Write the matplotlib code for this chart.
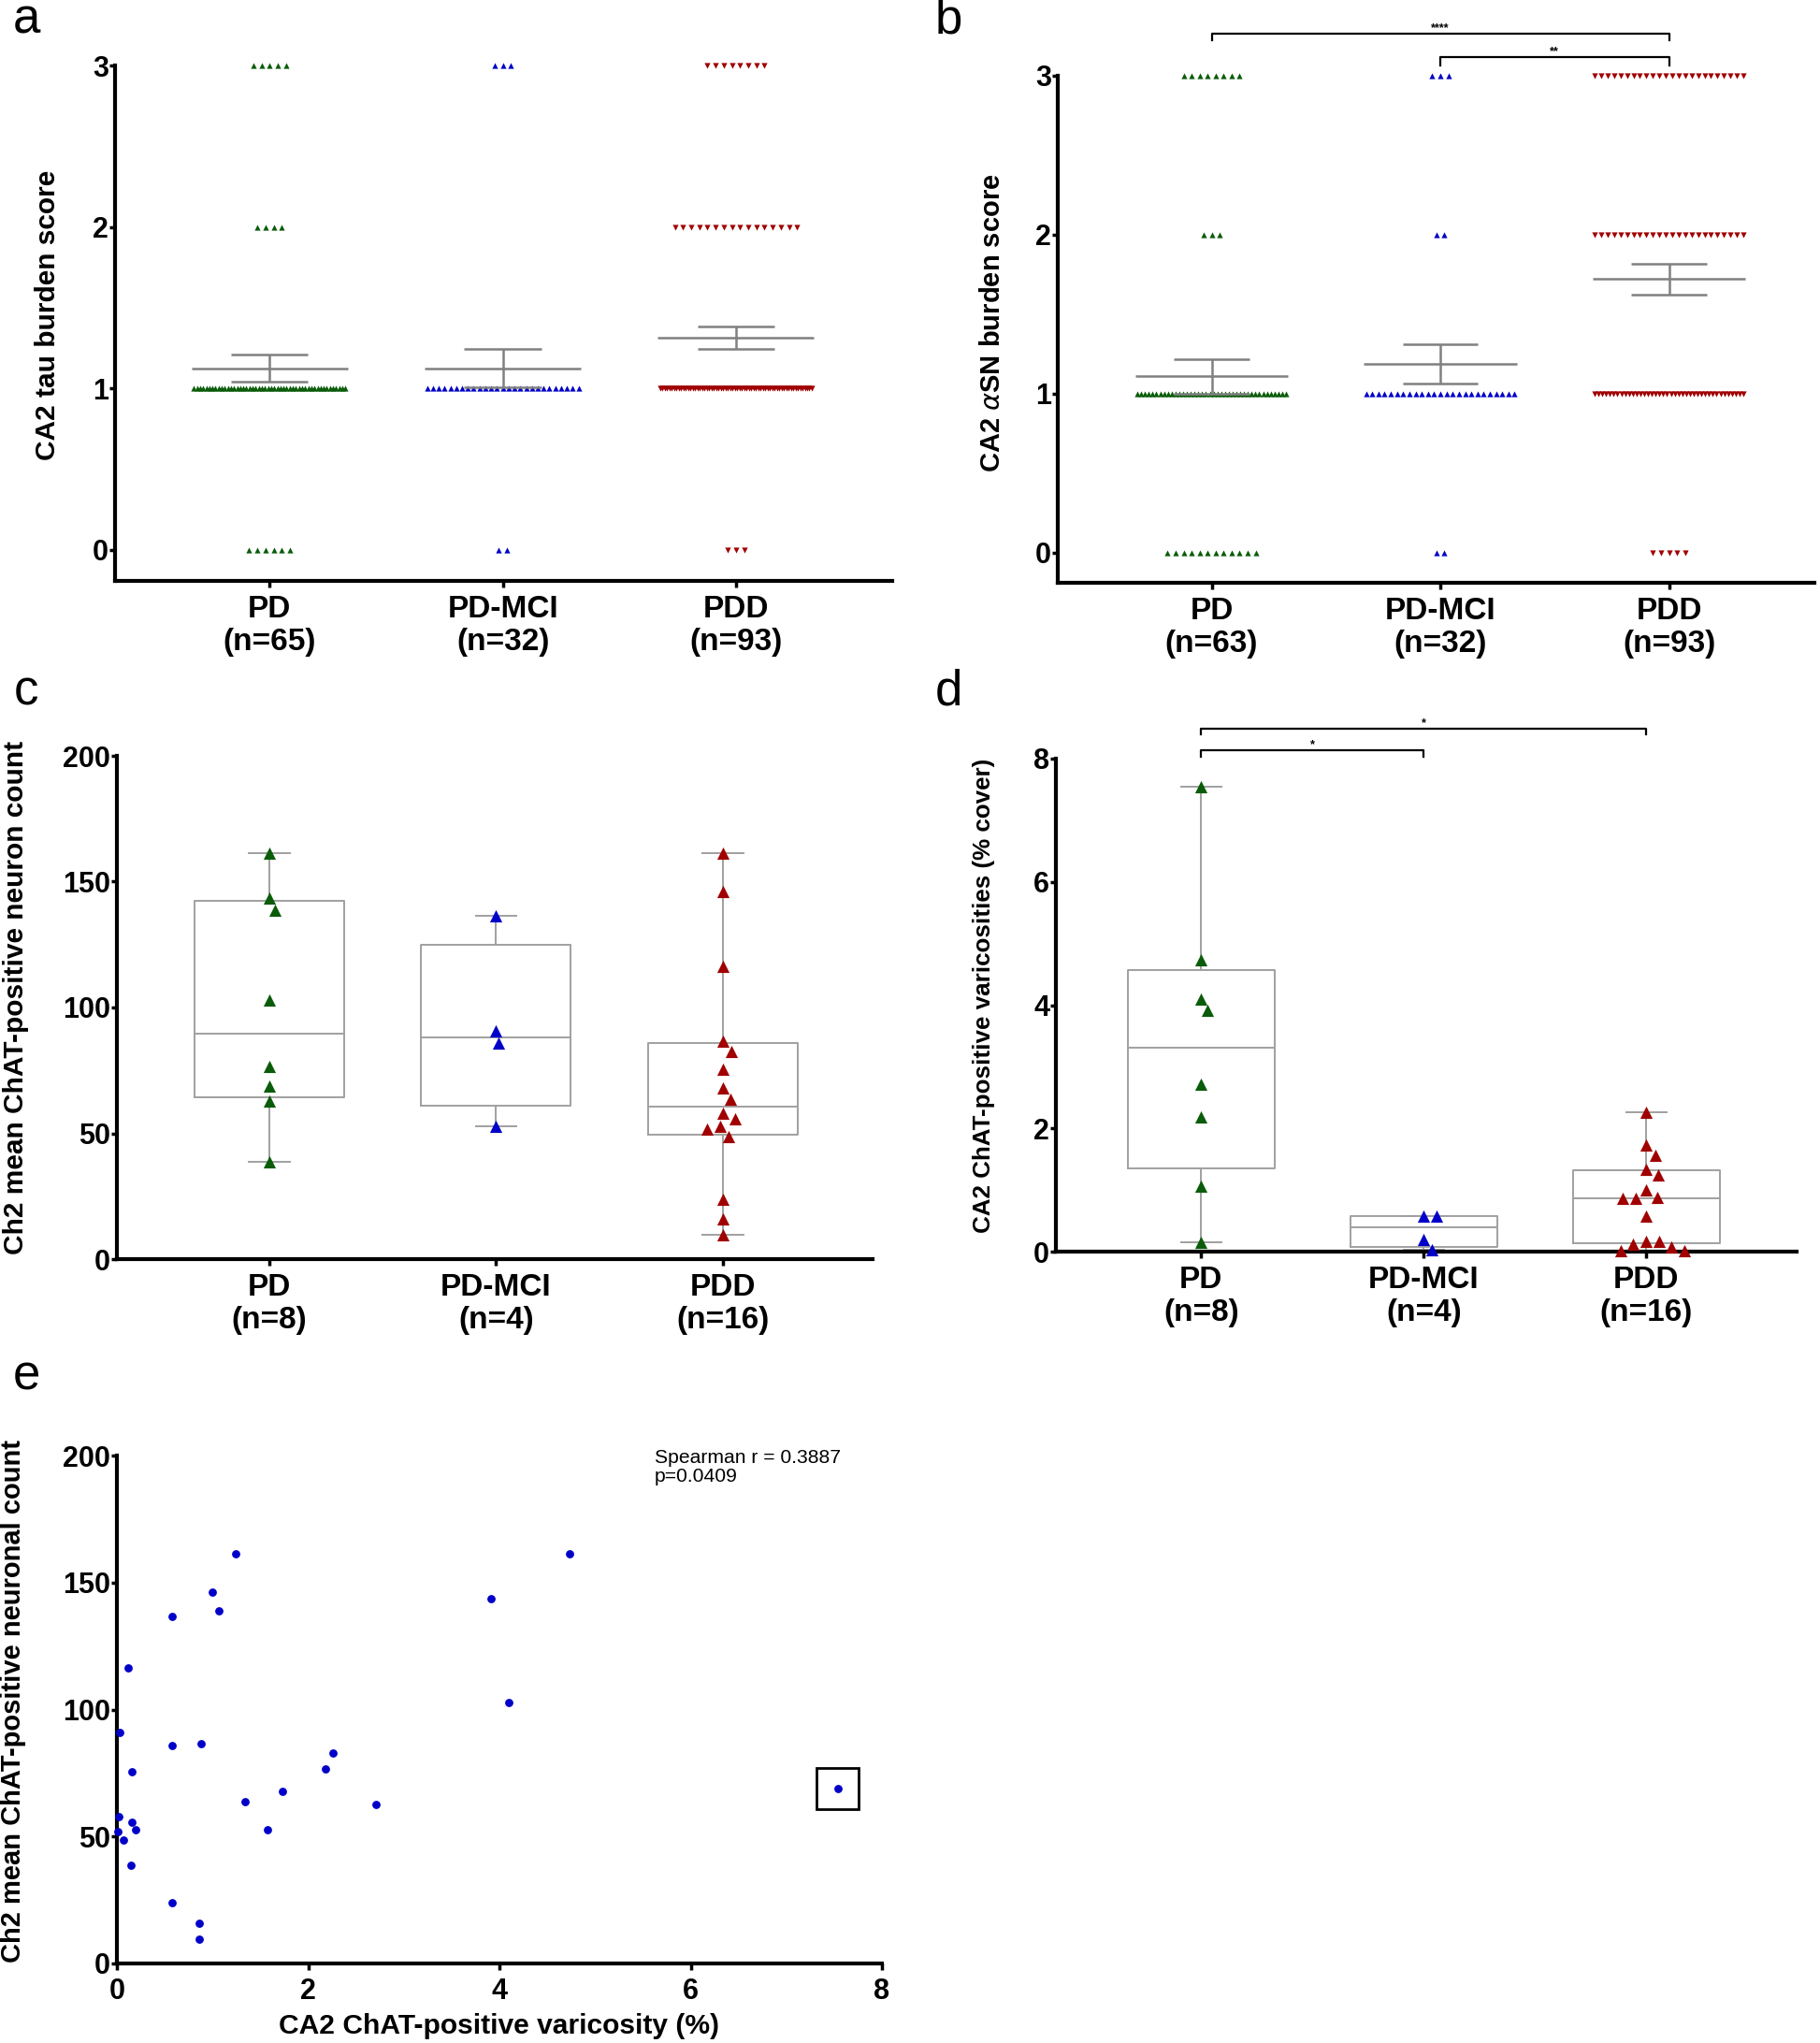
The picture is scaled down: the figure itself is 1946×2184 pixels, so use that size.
import numpy as np
import matplotlib
matplotlib.use("Agg")
import matplotlib.pyplot as plt
from matplotlib.patches import Rectangle

# --- data ---
groups = ["PD", "PD-MCI", "PDD"]
scores = [0, 1, 2, 3]

# panel a: CA2 tau burden score, number of cases per score 0..3
tau_pd = [6, 50, 4, 5]
tau_mci = [2, 27, 0, 3]
tau_pdd = [3, 66, 16, 8]

# panel b: CA2 aSN burden score, number of cases per score 0..3
asn_pd = [12, 40, 3, 8]
asn_mci = [2, 25, 2, 3]
asn_pdd = [5, 40, 24, 24]

# panels c, d, e: paired per case (neuron count, varicosity % cover)
count_pd = [161.5, 143.5, 138.7, 102.8, 76.7, 68.9, 62.7, 38.6]
varic_pd = [4.73, 3.91, 1.07, 4.10, 2.18, 7.54, 2.71, 0.15]
count_mci = [136.5, 90.8, 85.7, 52.8]
varic_mci = [0.58, 0.03, 0.58, 0.20]
count_pdd = [161.4, 146.2, 116.3, 86.7, 82.7, 75.6, 67.9, 63.6,
             57.9, 55.8, 52.8, 51.8, 48.6, 23.8, 15.8, 9.7]
varic_pdd = [1.24, 1.00, 0.12, 0.88, 2.26, 0.16, 1.73, 1.34,
             0.02, 0.16, 1.57, 0.01, 0.07, 0.58, 0.86, 0.86]

brackets_b = [(0, 2, "****"), (1, 2, "**")]
brackets_d = [(0, 2, "*"), (0, 1, "*")]
spearman_txt = "Spearman r = 0.3887\np=0.0409"

GREEN = "#0a5c0a"
BLUE = "#0000c8"
RED = "#a00000"
GRAY = "#808080"
BOXC = "#a0a0a0"

plt.rcParams["font.family"] = ["Liberation Sans", "DejaVu Sans"]
plt.rcParams["mathtext.fontset"] = "dejavusans"

W, H = 1946, 2184
fig = plt.figure(figsize=(W / 100, H / 100), dpi=100)


def frame(left, top, right, bottom):
    return fig.add_axes([left / W, 1 - bottom / H, (right - left) / W, (bottom - top) / H])


def style(ax, xlim, ylim, yticks, xlabels, xsize=24):
    ax.set_xlim(*xlim)
    ax.set_ylim(*ylim)
    for s in ("top", "right"):
        ax.spines[s].set_visible(False)
    for s in ("left", "bottom"):
        ax.spines[s].set_linewidth(3)
    ax.tick_params(axis="y", direction="out", length=4, width=2.5, pad=1)
    ax.tick_params(axis="x", direction="out", length=5, width=2.5, pad=6)
    ax.set_yticks(yticks)
    ax.set_yticklabels([str(t) for t in yticks], fontsize=22, fontweight="bold")
    if xlabels is not None:
        ax.set_xticks(range(len(xlabels)))
        ax.set_xticklabels(xlabels, fontsize=xsize, fontweight="bold", linespacing=1.15)


def dot_rows(ax, counts, pos, color, marker):
    xs, ys = [], []
    for sc, k in zip(scores, counts):
        if k == 0:
            continue
        step = min(0.035, 0.65 / (k - 1)) if k > 1 else 0
        off = (np.arange(k) - (k - 1) / 2) * step
        xs.extend(pos + off)
        ys.extend([sc] * k)
    ax.scatter(xs, ys, marker=marker, s=20, color=color, linewidths=0, clip_on=False, zorder=3)


def mean_sem(ax, counts, pos):
    vals = np.repeat(scores, counts)
    m = vals.mean()
    se = vals.std(ddof=1) / np.sqrt(len(vals))
    ax.hlines(m, pos - 0.335, pos + 0.335, color=GRAY, lw=1.8, zorder=4)
    ax.hlines([m - se, m + se], pos - 0.165, pos + 0.165, color=GRAY, lw=1.8, zorder=4)
    ax.vlines(pos, m - se, m + se, color=GRAY, lw=1.8, zorder=4)


def swarm(ax, vals, diam=14.0, step=1.0):
    pos = ax.get_position()
    x0, x1 = ax.get_xlim()
    y0, y1 = ax.get_ylim()
    pxx = pos.width * W / (x1 - x0)
    pxy = pos.height * H / (y1 - y0)
    vals = np.asarray(vals)
    offs = np.zeros(len(vals))
    placed = []
    cands = [0.0]
    for k in range(1, 400):
        cands += [k * step, -k * step]
    for i in np.argsort(-vals):
        y = vals[i] * pxy
        for dx in cands:
            if all((dx - px) ** 2 + (y - py) ** 2 >= diam ** 2 for px, py in placed):
                break
        placed.append((dx, y))
        offs[i] = dx / pxx
    return offs


def box_swarm(ax, vals, pos, color):
    vals = np.asarray(vals)
    q1, med, q3 = np.percentile(vals, [25, 50, 75], method="weibull")
    st = [dict(med=med, q1=q1, q3=q3, whislo=vals.min(), whishi=vals.max(), fliers=[])]
    lp = dict(color=BOXC, lw=1.4)
    ax.bxp(st, positions=[pos], widths=0.66, capwidths=0.18, showfliers=False,
           boxprops=lp, whiskerprops=lp, capprops=lp, medianprops=lp, manage_ticks=False)
    ax.scatter(pos + swarm(ax, vals), vals, marker="^", s=90, color=color,
               linewidths=0, zorder=3, clip_on=False)


def bracket(ax, x1, x2, ylo, yhi, label):
    ax.plot([x1, x1, x2, x2], [ylo, yhi, yhi, ylo], color="k", lw=1.6, clip_on=False)
    ax.text((x1 + x2) / 2, yhi, label, ha="center", va="bottom", fontsize=9,
            fontweight="bold", clip_on=False)


def ylab(x, y, text, size=21.5):
    fig.text(x / W, 1 - y / H, text, rotation=90, ha="center", va="center",
             fontsize=size, fontweight="bold")


# --- panel a ---
ax_a = frame(123, 70, 954, 621)
style(ax_a, (-0.663, 2.67), (-0.193, 3), [0, 1, 2, 3],
      ["PD\n(n=65)", "PD-MCI\n(n=32)", "PDD\n(n=93)"])
for i, (c, col, mk) in enumerate([(tau_pd, GREEN, "^"), (tau_mci, BLUE, "^"), (tau_pdd, RED, "v")]):
    dot_rows(ax_a, c, i, col, mk)
    mean_sem(ax_a, c, i)
ylab(51, 337, "CA2 tau burden score")

# --- panel b ---
ax_b = frame(1131, 81, 1940, 623)
style(ax_b, (-0.673, 2.636), (-0.189, 3), [0, 1, 2, 3],
      ["PD\n(n=63)", "PD-MCI\n(n=32)", "PDD\n(n=93)"])
for i, (c, col, mk) in enumerate([(asn_pd, GREEN, "^"), (asn_mci, BLUE, "^"), (asn_pdd, RED, "v")]):
    dot_rows(ax_b, c, i, col, mk)
    mean_sem(ax_b, c, i)
b_levels = [(3.221, 3.262), (3.066, 3.115)]
for (g1, g2, lab), (lo, hi) in zip(brackets_b, b_levels):
    bracket(ax_b, g1, g2, lo, hi, lab)
ylab(1061, 345, r"CA2 $\alpha$SN burden score", size=21)

# --- panel c ---
ax_c = frame(125, 808, 933, 1346)
style(ax_c, (-0.672, 2.66), (0, 200), [0, 50, 100, 150, 200],
      ["PD\n(n=8)", "PD-MCI\n(n=4)", "PDD\n(n=16)"])
for i, (v, col) in enumerate([(count_pd, GREEN), (count_mci, BLUE), (count_pdd, RED)]):
    box_swarm(ax_c, v, i, col)
ylab(17, 1066, "Ch2 mean ChAT-positive neuron count")

# --- panel d ---
ax_d = frame(1129, 811, 1921, 1338)
style(ax_d, (-0.652, 2.675), (0, 8), [0, 2, 4, 6, 8],
      ["PD\n(n=8)", "PD-MCI\n(n=4)", "PDD\n(n=16)"])
for i, (v, col) in enumerate([(varic_pd, GREEN), (varic_mci, BLUE), (varic_pdd, RED)]):
    box_swarm(ax_d, v, i, col)
d_levels = [(8.39, 8.49), (8.03, 8.13)]
for (g1, g2, lab), (lo, hi) in zip(brackets_d, d_levels):
    bracket(ax_d, g1, g2, lo, hi, lab)
ylab(1052, 1064, "CA2 ChAT-positive varicosities (% cover)", size=18.7)

# --- panel e ---
ax_e = frame(125, 1556, 943, 2099)
style(ax_e, (0, 8), (0, 200), [0, 50, 100, 150, 200], None)
ax_e.set_xticks([0, 2, 4, 6, 8])
ax_e.set_xticklabels(["0", "2", "4", "6", "8"], fontsize=22, fontweight="bold")
vx = np.concatenate([varic_pd, varic_mci, varic_pdd])
vy = np.concatenate([count_pd, count_mci, count_pdd])
ax_e.scatter(vx, vy, s=40, color=BLUE, linewidths=0, zorder=3, clip_on=False)
k = np.argmax(vx)
ax_e.add_patch(Rectangle((vx[k] - 0.22, vy[k] - 8.2), 0.44, 16.4, fill=False,
                         edgecolor="k", lw=2, zorder=4))
ax_e.text(0.703, 1.012, spearman_txt, transform=ax_e.transAxes, ha="left", va="top",
          fontsize=15.2, linespacing=1.05)
ylab(14, 1818, "Ch2 mean ChAT-positive neuronal count", size=21)
fig.text(533 / W, 1 - 2166 / H, "CA2 ChAT-positive varicosity (%)", ha="center", va="center",
         fontsize=21.6, fontweight="bold")

# panel letters
for lab, (x, y) in zip("abcde", [(28, 22), (1014, 22), (28, 740), (1014, 740), (28, 1472)]):
    fig.text(x / W, 1 - y / H, lab, ha="center", va="center", fontsize=38)

fig.savefig("out.png", dpi=100)
